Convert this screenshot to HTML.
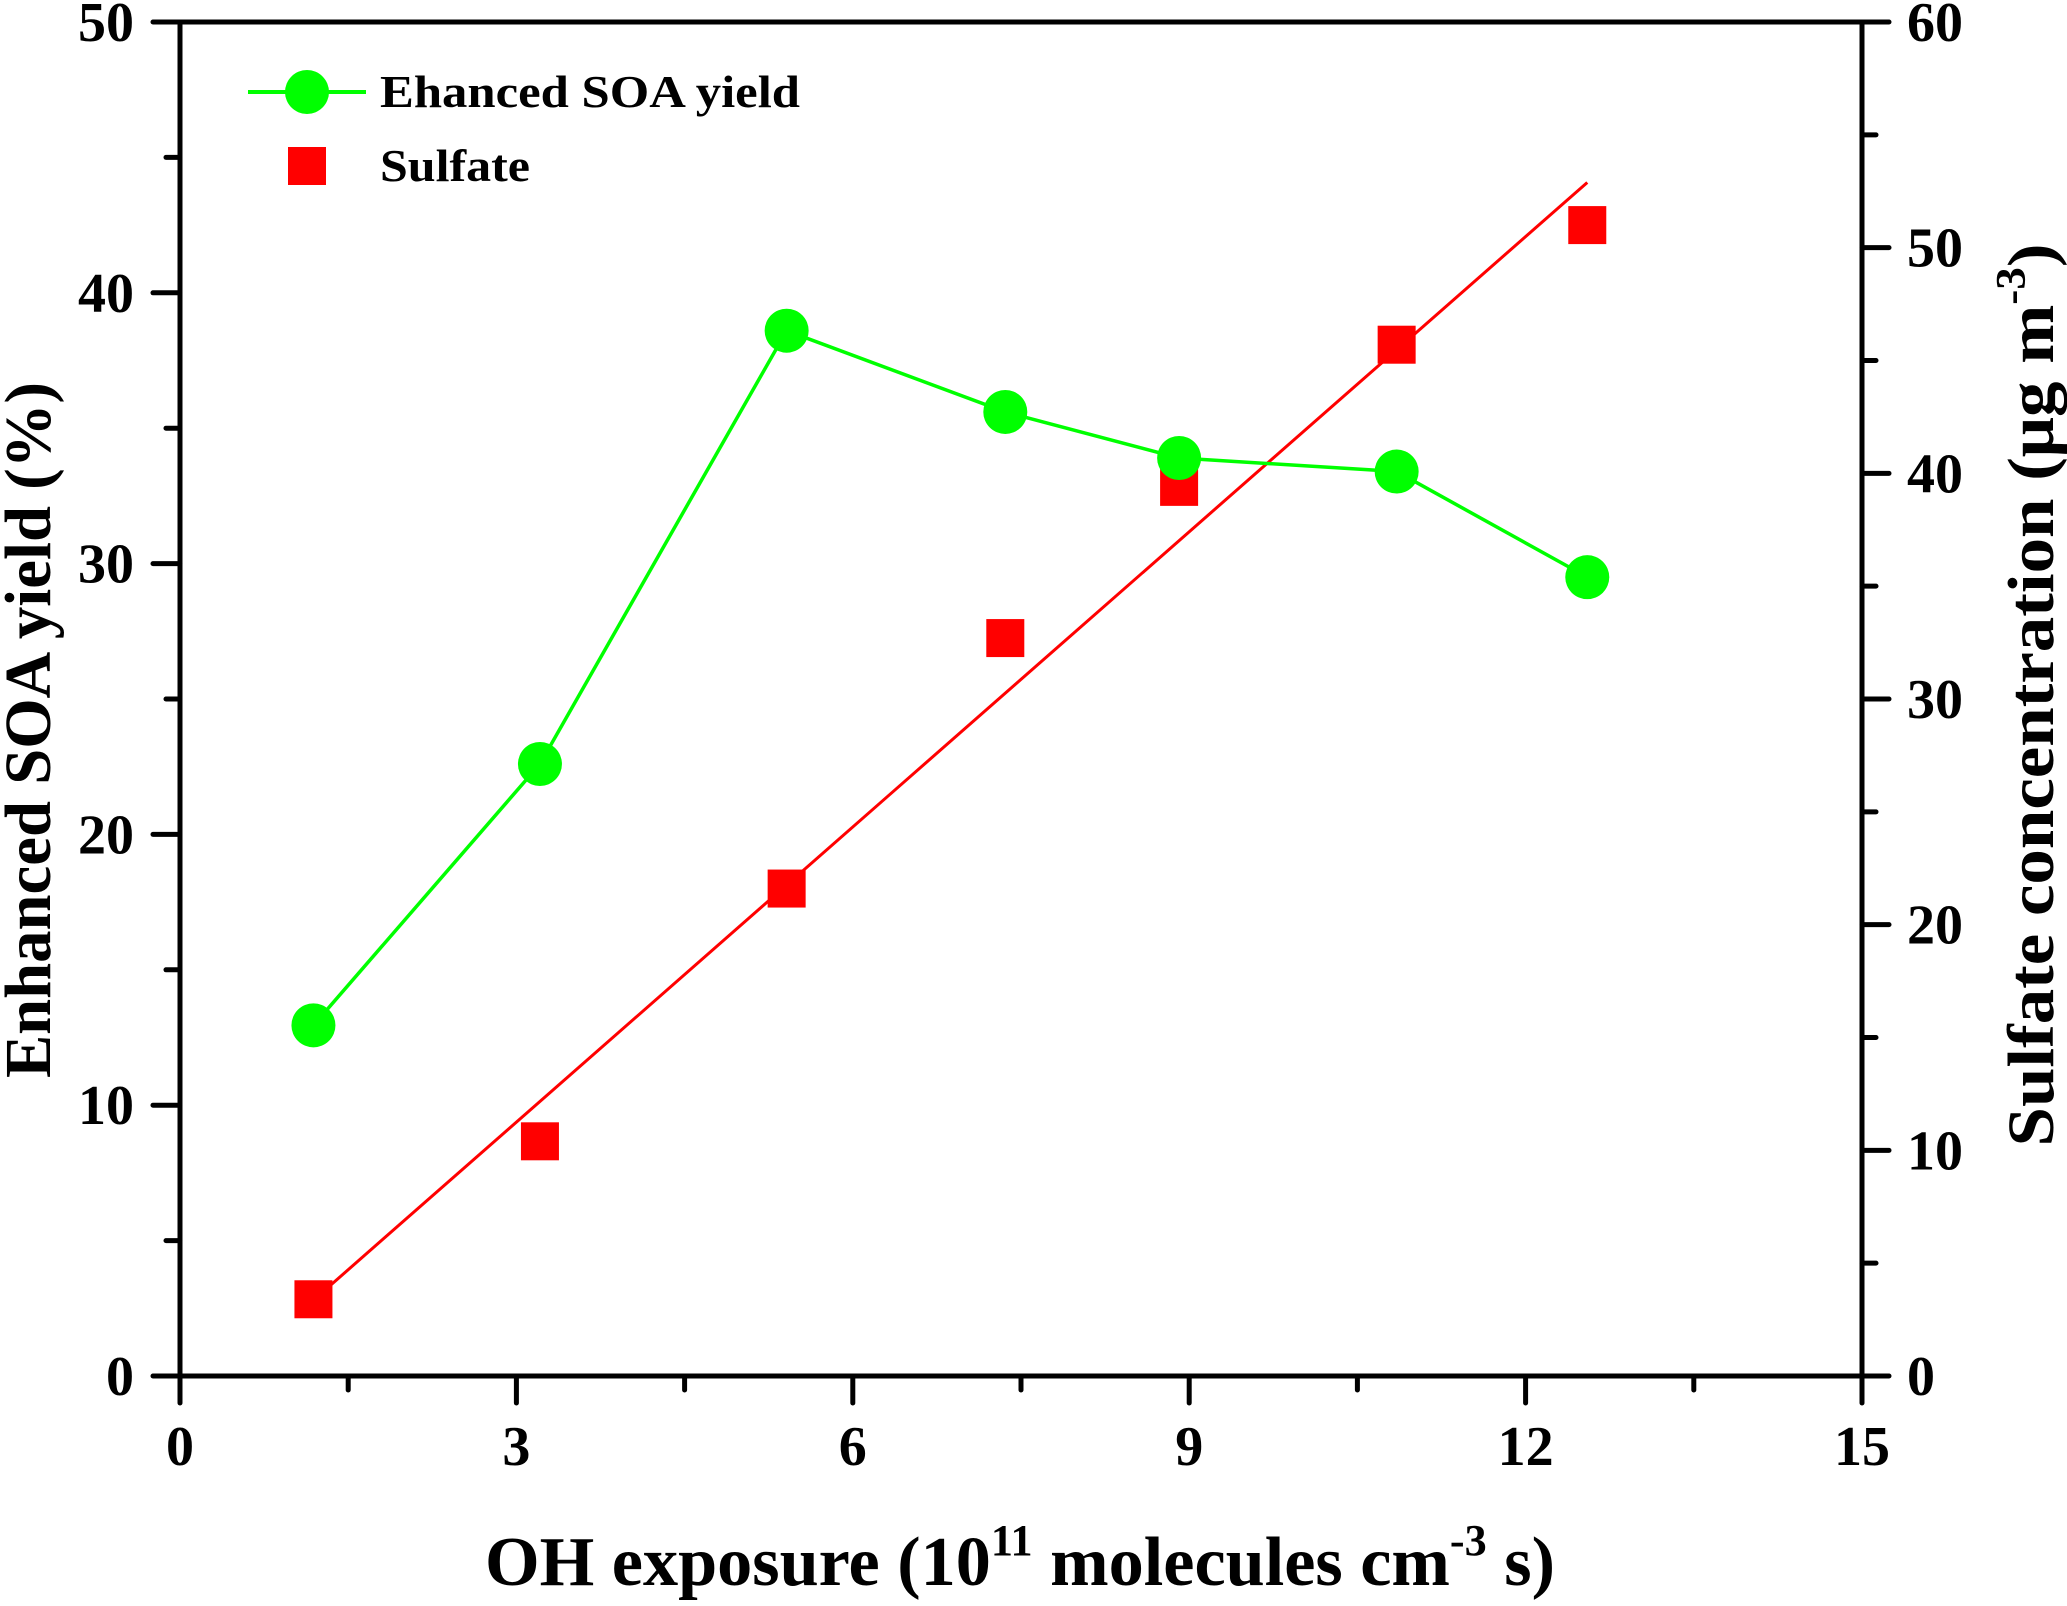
<!DOCTYPE html>
<html><head><meta charset="utf-8"><style>
html,body{margin:0;padding:0;background:#fff;}
svg text{font-family:"Liberation Serif",serif;font-weight:bold;fill:#000;}
</style></head><body>
<svg id="chart" width="2067" height="1601" viewBox="0 0 2067 1601" xmlns="http://www.w3.org/2000/svg">
<g id="axes"></g>
<g id="marks"></g>
<g id="legend">
  <line x1="248" y1="92" x2="366" y2="92" stroke="#00ff00" stroke-width="4"/>
  <circle cx="307" cy="92" r="22" fill="#00ff00"/>
  <text x="380" y="107" font-size="46" textLength="420" lengthAdjust="spacingAndGlyphs">Ehanced SOA yield</text>
  <rect x="288" y="147" width="38" height="38" fill="#ff0000"/>
  <text x="380" y="181" font-size="46" textLength="150" lengthAdjust="spacingAndGlyphs">Sulfate</text>
</g>
<text x="1020" y="1585" font-size="70" text-anchor="middle" textLength="1070" lengthAdjust="spacingAndGlyphs">OH exposure (10<tspan font-size="44" dy="-30">11</tspan><tspan dy="30"> molecules cm</tspan><tspan font-size="44" dy="-30">-3</tspan><tspan dy="30"> s)</tspan></text>
<text transform="translate(50,730) rotate(-90)" x="0" y="0" font-size="66" text-anchor="middle" textLength="696" lengthAdjust="spacingAndGlyphs">Enhanced SOA yield (%)</text>
<text transform="translate(2053,695) rotate(-90)" x="0" y="0" font-size="66" text-anchor="middle" textLength="903" lengthAdjust="spacingAndGlyphs">Sulfate concentration (μg m<tspan font-size="42" dy="-28">-3</tspan><tspan dy="28">)</tspan></text>
</svg>
<script>
const exposure = [1.19, 3.21, 5.41, 7.36, 8.91, 10.85, 12.55];
const soaYield = [12.95, 22.6, 38.6, 35.6, 33.9, 33.4, 29.5];
const sulfate = [3.4, 10.4, 21.6, 32.7, 39.4, 45.7, 51.0];
const fitRange = [1.2, 12.55];
const fitCoef = [4.36, -1.83];
const xTicks = [0, 3, 6, 9, 12, 15];
const leftTicks = [0, 10, 20, 30, 40, 50];
const rightTicks = [0, 10, 20, 30, 40, 50, 60];

const L=180,R=1862,T=22,B=1376;
const xS=v=>L+(v/15)*(R-L);
const yL=v=>B-(v/50)*(B-T);
const yR=v=>B-(v/60)*(B-T);
const NS="http://www.w3.org/2000/svg";
const axes=document.getElementById('axes'), marks=document.getElementById('marks');
function mk(tag,attrs,parent){const e=document.createElementNS(NS,tag);for(const k in attrs)e.setAttribute(k,attrs[k]);parent.appendChild(e);return e;}
function ln(x1,y1,x2,y2,parent,w,c){return mk('line',{x1,y1,x2,y2,stroke:c||'#000','stroke-width':w||5,'stroke-linecap':'round'},parent);}

let e;
e=ln(L,T,L,B,axes);  
e=ln(R,T,R,B,axes);  
e=ln(L,B,R,B,axes);  
e=ln(L,T,R,T,axes);  

xTicks.forEach((v,i)=>{
  const t=ln(xS(v),B,xS(v),B+27,axes);
  
  
  if(i<xTicks.length-1){const m=ln(xS(v+1.5),B,xS(v+1.5),B+14,axes);
    
    }
  const tx=mk('text',{x:xS(v),y:1465,'font-size':56,'text-anchor':'middle'},axes); tx.textContent=v;
  
  
});
leftTicks.forEach((v,i)=>{
  const t=ln(L-27,yL(v),L,yL(v),axes);
  
  
  if(i<leftTicks.length-1){const m=ln(L-14,yL(v+5),L,yL(v+5),axes);
    
    }
  const tx=mk('text',{x:134,y:yL(v)+19,'font-size':56,'text-anchor':'end'},axes); tx.textContent=v;
  
  
});
rightTicks.forEach((v,i)=>{
  const t=ln(R,yR(v),R+27,yR(v),axes);
  
  
  if(i<rightTicks.length-1){const m=ln(R,yR(v+5),R+14,yR(v+5),axes);
    
    }
  const tx=mk('text',{x:1907,y:yR(v)+19,'font-size':56,'text-anchor':'start'},axes); tx.textContent=v;
  
  
});

// fit line
const fit=mk('line',{x1:xS(fitRange[0]),y1:yR(fitCoef[0]*fitRange[0]+fitCoef[1]),x2:xS(fitRange[1]),y2:yR(fitCoef[0]*fitRange[1]+fitCoef[1]),stroke:'#ff0000','stroke-width':3},marks);



// SOA line
const pl=mk('polyline',{points:exposure.map((x,i)=>xS(x)+','+yL(soaYield[i])).join(' '),fill:'none',stroke:'#00ff00','stroke-width':3.5},marks);



exposure.forEach((x,i)=>{
  const s=mk('rect',{x:xS(x)-19,y:yR(sulfate[i])-19,width:38,height:38,fill:'#ff0000'},marks);
  
  
});
exposure.forEach((x,i)=>{
  const c=mk('circle',{cx:xS(x),cy:yL(soaYield[i]),r:22,fill:'#00ff00'},marks);
  
  
});
</script>
</body></html>
